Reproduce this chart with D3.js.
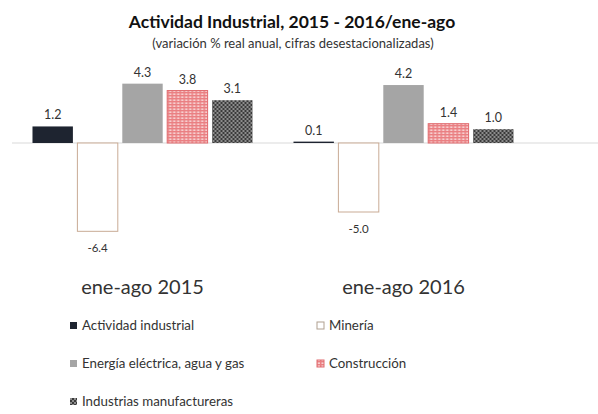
<!DOCTYPE html>
<html>
<head>
<meta charset="utf-8">
<script src="https://cdn.jsdelivr.net/npm/d3@7"></script>
<style>
  html, body { margin: 0; padding: 0; background: #fff; }
  svg { display: block; font-family: Lato, "Open Sans", sans-serif; }
</style>
</head>
<body>
<div id="chart"></div>
<script>
// Data
const categories = ['ene-ago 2015', 'ene-ago 2016'];
const series = ['Actividad industrial', 'Minería', 'Energía eléctrica, agua y gas', 'Construcción', 'Industrias manufactureras'];
const values2015 = [1.2, -6.4, 4.3, 3.8, 3.1];
const values2016 = [0.1, -5.0, 4.2, 1.4, 1.0];

const width = 598, height = 414;

const svg = d3.select('#chart').append('svg')
    .attr('width', width)
    .attr('height', height);

// Patterns for the textured bars
const defs = svg.append('defs');

const pConst = defs.append('pattern')
    .attr('id', 'pat-const')
    .attr('patternUnits', 'userSpaceOnUse')
    .attr('width', 4).attr('height', 3);
pConst.append('rect').attr('width', 4).attr('height', 3).attr('fill', '#ea7f82');
pConst.append('rect').attr('x', 0.5).attr('y', 0.5).attr('width', 2.5).attr('height', 1.3).attr('fill', '#fbe3e3');

const pManuf = defs.append('pattern')
    .attr('id', 'pat-manuf')
    .attr('patternUnits', 'userSpaceOnUse')
    .attr('width', 4).attr('height', 4);
pManuf.append('rect').attr('width', 4).attr('height', 4).attr('fill', '#3a3a3a');
pManuf.append('rect').attr('x', 0).attr('y', 0).attr('width', 2).attr('height', 2).attr('fill', '#8c8c8c');
pManuf.append('rect').attr('x', 2).attr('y', 2).attr('width', 2).attr('height', 2).attr('fill', '#8c8c8c');

const fills = ['#1e2430', '#ffffff', '#a5a5a5', 'url(#pat-const)', 'url(#pat-manuf)'];
const strokes = ['none', '#c9ab95', 'none', '#e06a6e', 'none'];

// Title
svg.append('text')
    .attr('x', 292).attr('y', 28)
    .attr('text-anchor', 'middle')
    .attr('font-size', 17.5).attr('font-weight', 'bold')
    .attr('fill', '#111')
    .text('Actividad Industrial, 2015 - 2016/ene-ago');

svg.append('text')
    .attr('x', 293).attr('y', 48)
    .attr('text-anchor', 'middle')
    .attr('font-size', 13)
    .attr('fill', '#333')
    .text('(variación % real anual, cifras desestacionalizadas)');

// Scales
const x0 = d3.scaleBand()
    .domain(categories)
    .range([12, 534])
    .paddingInner(0.157)
    .paddingOuter(0.0785);

const x1 = d3.scaleBand()
    .domain(series)
    .range([0, x0.bandwidth()])
    .paddingInner(0.1);

const y = d3.scaleLinear()
    .domain([-7, 5])
    .range([143 + 7 * 13.8, 143 - 5 * 13.8]);

const rows = categories.map((c, i) => ({
    cat: c,
    vals: (i === 0 ? values2015 : values2016).map((v, j) => ({ s: series[j], v: v, j: j }))
}));

// Baseline
svg.append('line')
    .attr('x1', 12).attr('x2', width)
    .attr('y1', y(0)).attr('y2', y(0))
    .attr('stroke', '#d9d9d9')
    .attr('stroke-width', 1);

// Bars
const groups = svg.append('g')
    .selectAll('g')
    .data(rows)
    .join('g')
    .attr('transform', d => `translate(${x0(d.cat)},0)`);

groups.selectAll('rect')
    .data(d => d.vals)
    .join('rect')
    .attr('x', d => x1(d.s))
    .attr('width', x1.bandwidth())
    .attr('y', d => y(Math.max(0, d.v)))
    .attr('height', d => Math.max(1, Math.abs(y(d.v) - y(0))))
    .attr('fill', d => fills[d.j])
    .attr('stroke', d => strokes[d.j])
    .attr('stroke-width', 1);

// Value labels (plain hyphen for negatives, as in the original)
groups.selectAll('text')
    .data(d => d.vals)
    .join('text')
    .attr('x', d => x1(d.s) + x1.bandwidth() / 2)
    .attr('y', d => d.v >= 0 ? y(d.v) - 7 : y(d.v) + 21)
    .attr('text-anchor', 'middle')
    .attr('font-size', d => d.v >= 0 ? 12.5 : 11.5)
    .attr('fill', '#333')
    .text(d => d.v.toFixed(1));

// Category labels
svg.append('g')
    .selectAll('text')
    .data(categories)
    .join('text')
    .attr('x', d => x0(d) + x0.bandwidth() / 2)
    .attr('y', 294)
    .attr('text-anchor', 'middle')
    .attr('font-size', 20)
    .attr('fill', '#333')
    .text(d => d);

// Legend
const legendPos = [
    [70, 330], [317, 330],
    [70, 368], [317, 368],
    [70, 406]
];
const legend = svg.append('g')
    .selectAll('g')
    .data(series)
    .join('g')
    .attr('transform', (d, i) => `translate(${legendPos[i][0]},${legendPos[i][1]})`);

legend.append('rect')
    .attr('x', 0).attr('y', -8)
    .attr('width', 7).attr('height', 7)
    .attr('fill', (d, i) => fills[i])
    .attr('stroke', (d, i) => i === 1 ? '#b0a090' : strokes[i]);

legend.append('text')
    .attr('x', 12).attr('y', 0)
    .attr('font-size', 13.3)
    .attr('fill', '#333')
    .text(d => d);
</script>
</body>
</html>
